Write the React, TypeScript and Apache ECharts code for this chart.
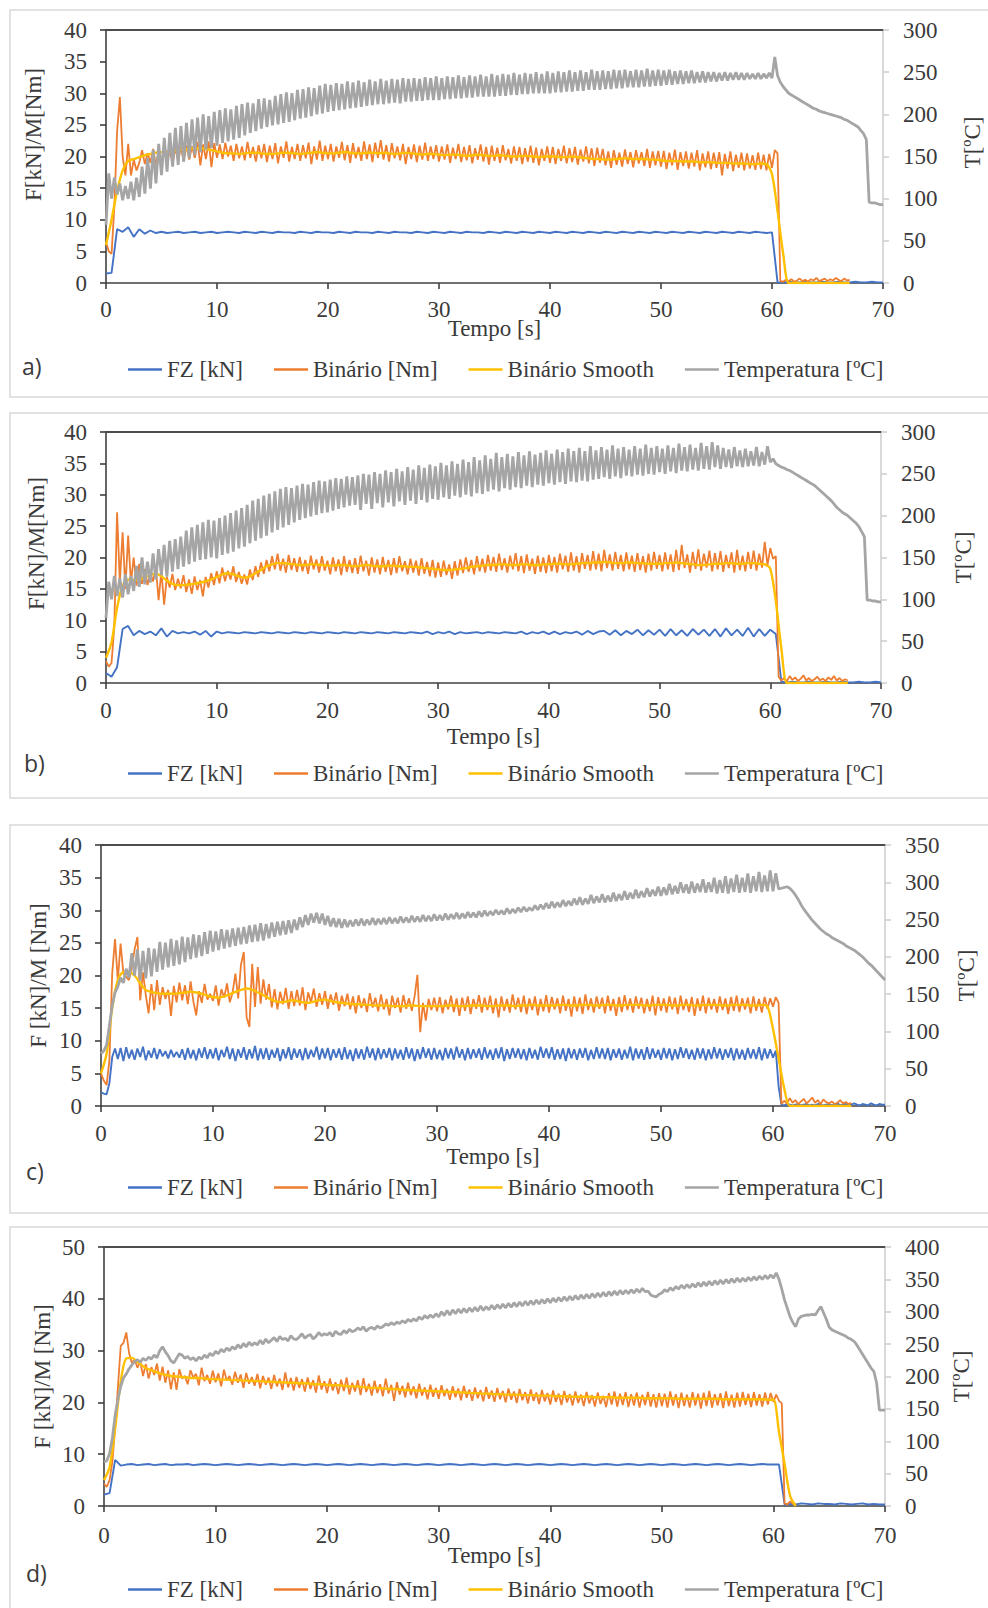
import React, { useEffect, useRef } from "react";
import * as echarts from "echarts";

const FONT = "Liberation Serif";
const C_FZ = "#4472C4";
const C_BIN = "#ED7D31";
const C_SM = "#FFC000";
const C_T = "#A5A5A5";
const TXT = "#3a3a3a";

// sample steps (s)
const STEP_BIN = 0.25;
const STEP_SM = 0.5;
const STEP_T = 0.25;

const legendNames = ["FZ [kN]", "Binário [Nm]", "Binário Smooth", "Temperatura [ºC]"];

// ---------------- Panel a ----------------
const fzA = [
  1.5,1.6,8.5,8.1,8.8,7.3,8.5,7.8,8.3,7.9,
  8.1,7.9,8,8.1,7.9,8,8.1,7.9,8,8.1,
  7.9,8,8.1,8,7.9,8.1,8,7.9,8.1,8,
  7.9,8.1,8,8,7.9,8.1,8,7.9,8.1,8,
  8,7.9,8.1,8,7.9,8.1,8,8,7.9,8.1,
  8,7.9,8.1,8,8,7.9,8.1,8,7.9,8.1,
  8,7.9,8.1,8,7.9,8.1,8,8,7.9,8.1,
  8,7.9,8.1,8,7.9,8.1,8,7.9,8.1,8,
  7.9,8.1,8,7.9,8.1,8,7.9,8.1,8,7.9,
  8.1,8,7.9,8.1,8,7.9,8.1,8,7.9,8.1,
  8,7.9,8.1,8,7.9,8.1,8,7.9,8.1,8,
  7.9,8.1,8,7.9,8.1,8,7.9,8.1,8,7.9,
  8,0.1,0.1,0.2,0.1,0.1,0.2,0.1,0.1,0.2,
  0.1,0.1,0.2,0.1,0.1,0.2,0.1,0.1,0.2,0.1,
  0.1,
];
const binA = [
  6.5,5.0,4.6,12,24,29.4,20,17,22,17,
  19.5,17.8,19,21,18.8,20.5,19,21.2,18.6,20.8,
  19.2,21.4,19,21,18.9,21.3,19.4,21.5,19.2,21.8,
  19.5,21.6,19.8,22.3,18.6,21.9,19.6,22.4,18.3,22.1,
  19.8,21.9,19.6,22.2,20,21.7,19.3,22,19.7,21.6,
  19.4,22.3,19.8,21.5,19.2,21.8,19.7,22,19.1,21.7,
  19.6,22.1,18.9,21.6,19.8,22.4,19.2,21.5,19.6,22,
  19.3,21.8,19.7,22.2,18.8,21.6,19.5,22.5,19.3,21.7,
  19.6,22,19.2,21.6,19.8,22.3,19.4,21.8,19,22.1,
  19.7,21.5,19.3,22.4,19.6,21.9,19.1,22.2,19.8,22.6,
  19.5,21.8,19.2,22.1,19.7,21.6,19.4,22,18.8,21.5,
  19.6,21.9,19.1,21.7,19.5,22.2,19.3,21.6,19.6,21.8,
  19.2,21.6,19.5,21.9,19,21.4,19.6,22,19.1,21.5,
  19.4,21.8,18.9,21.3,19.5,21.9,19.2,21.5,18.7,21.7,
  19.3,21.4,19,21.8,19.4,21.2,18.9,21.6,19.3,21.5,
  18.8,21.3,19.2,21.7,19,21.4,18.6,21.2,19.3,21.6,
  19,21.5,18.8,21.2,19.3,21.7,18.9,21.3,19.1,21.5,
  18.7,21.1,19.2,21.6,18.9,21.3,18.5,21.4,19,21.2,
  18.6,20.8,18.2,21,18.7,20.6,18.4,21.1,18.8,20.7,
  18.3,21,18.9,20.7,18.5,21.2,18.2,20.8,18.6,20.9,
  18.4,20.9,18,20.6,18.6,21.1,17.9,20.7,18.5,20.8,
  18.1,20.6,18.4,21,17.8,20.5,18.3,20.8,18,20.6,
  18.2,20.7,17,20.4,18.1,20.8,17.7,20.3,18.2,20.6,
  17.8,20.5,18.1,20.2,17.9,20.6,18,20.3,17.8,20.4,
  18.2,21,20.5,0.3,0.2,0.5,0.3,0.6,0.2,0.4,
  0.7,0.3,0.5,0.2,0.6,0.4,0.8,0.3,0.5,0.7,
  0.3,0.6,0.4,0.8,0.5,0.3,0.7,0.4,0.5,
];
const smA = [
  6,10,14.5,17.8,19.3,19.6,19.9,20.2,20.4,20.6,
  20.7,20.8,20.9,21,21.1,21.2,21.3,21.3,21.2,21,
  20.8,20.6,20.5,20.5,20.4,20.5,20.6,20.6,20.5,20.4,
  20.4,20.5,20.6,20.6,20.5,20.4,20.5,20.6,20.7,20.6,
  20.5,20.5,20.6,20.7,20.6,20.5,20.5,20.6,20.6,20.5,
  20.6,20.5,20.4,20.5,20.6,20.5,20.4,20.3,20.4,20.4,
  20.3,20.2,20.3,20.3,20.2,20.1,20.2,20.3,20.2,20.1,
  20.1,20.2,20.1,20,20,20.1,20.1,20,19.9,20,
  20,20,19.9,19.9,20,19.9,19.8,19.7,19.6,19.6,
  19.5,19.5,19.6,19.7,19.7,19.6,19.6,19.6,19.5,19.5,
  19.4,19.3,19.3,19.3,19.2,19.2,19.2,19.1,19.1,19.1,
  19,19,19,18.9,18.9,18.9,18.8,18.8,18.9,18.8,
  17.2,11.4,4.7,0,0,0,0,0,0,0,
  0,0,0,0,0,
];
const tempA = [
  69,130,100,125,105,118,98,115,100,120,
  98,125,102,138,106,148,112,158,118,165,
  128,172,132,178,138,184,140,186,144,190,
  148,194,152,196,155,200,158,198,160,203,
  163,205,166,207,168,206,170,210,172,212,
  175,214,178,213,180,218,183,219,185,217,
  187,222,188,224,190,226,191,225,193,229,
  195,230,196,232,198,231,200,234,201,236,
  203,235,204,237,205,236,206,239,207,238,
  208,240,209,238,210,241,211,239,212,242,
  212,240,213,242,214,241,213,243,215,242,
  215,243,216,242,216,244,217,243,217,245,
  217,243,218,245,218,244,219,246,219,244,
  220,246,220,245,221,247,221,245,221,248,
  221,246,222,248,222,247,223,249,223,247,
  224,249,224,248,225,250,225,248,225,251,
  225,249,226,251,226,250,227,252,227,250,
  228,252,228,250,229,253,229,251,229,252,
  230,251,230,253,231,252,231,253,232,251,
  232,253,232,252,233,254,233,252,234,253,
  234,252,235,253,235,251,236,252,236,251,
  237,252,237,250,238,251,238,250,239,250,
  239,249,240,250,240,249,241,250,241,249,
  241,249,242,248,242,249,242,248,243,249,
  243,268,246,238,233,229,225,223,221,219,
  217,215,213,211,209,207,206,204,203,202,
  201,200,199,198,197,196,194,193,191,189,
  187,185,181,177,170,96,95,95,94,93,
  93,
];

// ---------------- Panel b ----------------
const fzB = [
  1.6,1.0,2.5,8.6,9.1,7.6,8.3,7.8,8.2,7.6,
  8.7,7.4,8.3,7.9,8.1,7.9,8.2,7.7,8.3,7.4,
  8.2,7.9,8.1,8,7.9,8.1,8,7.9,8.1,8,
  7.9,8.1,8,7.9,8.1,8,7.9,8.1,8,7.9,
  8.1,8,7.9,8.1,8,7.9,8.1,8,7.9,8.1,
  8,7.9,8.1,8,7.9,8.1,8,7.9,8.2,7.8,
  8.1,7.9,8.2,7.8,8.1,7.9,8,8.1,7.9,8.1,
  8,7.9,8.1,8,7.9,8.2,7.8,8.1,7.9,8.2,
  7.8,8.2,7.8,8.1,7.9,8.2,7.7,8.3,7.8,8.2,
  8.3,7.7,8.4,7.6,8.3,7.8,8.5,7.6,8.4,7.7,
  8.5,7.5,8.6,7.6,8.4,7.5,8.6,7.7,8.5,7.5,
  8.6,7.4,8.7,7.6,8.5,7.5,8.8,7.4,8.6,7.5,
  8.5,7.8,0.2,0.1,0.2,0.1,0.1,0.2,0.1,0.1,
  0.2,0.1,0.1,0.2,0.1,0.1,0.2,0.1,0.1,0.2,
  0.1,
];
const binB = [
  3.5,2.6,3.2,9,27.2,16,24,15,23.5,16,
  20,15.5,19,15.8,18.2,15.6,17.5,16.2,18.4,13.2,
  17.8,12.5,16.9,15.2,17.4,14.8,16.6,15.1,17.2,14.5,
  16.5,14.2,17,14.8,16.4,13.8,16.9,15.2,17.5,15.6,
  17.8,15.9,18.4,16.2,17.9,16.5,18.6,16.1,17.7,15.8,
  17.3,15.7,18.1,16.4,18.6,16.9,19.2,17.4,19.6,17.8,
  20.2,18.1,20.6,17.9,19.8,17.6,20.4,18,19.9,17.7,
  20.1,17.8,19.6,17.4,20.3,18.1,19.7,17.6,20.2,17.9,
  19.5,17.3,20,17.8,19.7,17.2,20.2,17.7,19.6,17.5,
  19.9,17.4,20.3,17.8,19.5,17.1,20,17.6,19.7,17.3,
  20.1,17.7,19.6,17.2,19.9,17.5,20.2,17.8,19.4,17.3,
  19.8,17.6,19.5,17.1,19.9,17.4,19.3,17,19.6,16.8,
  19.2,16.9,19.5,17.2,18.9,16.6,19.4,17.1,19.7,17.5,
  20,17.7,19.6,17.3,20.2,17.8,19.8,17.6,20.4,17.9,
  20.1,17.7,20.6,18,19.9,17.6,20.3,18.1,20.7,17.8,
  20.2,17.5,20.5,17.9,19.8,17.4,20.3,17.7,20,17.5,
  20.4,17.8,20.1,17.6,20.6,18.1,20.3,17.7,20.8,17.9,
  20.2,17.6,20.7,18.2,20.4,17.9,21,18.1,20.6,17.8,
  21.2,18.3,20.5,17.9,20.9,18.2,20.4,17.8,20.8,18.1,
  20.3,17.7,20.7,18,20.2,17.6,20.6,17.9,20.9,18.2,
  20.4,17.8,20.8,18.1,20.5,17.7,21.2,18,22,18.3,
  20.5,17.6,20.9,18.2,21.3,17.9,20.6,18.4,21.1,17.8,
  20.7,18.1,21,17.7,20.4,18.3,20.8,17.6,21.2,18,
  20.3,17.8,20.9,18.2,21.1,17.9,20.6,18.4,22.5,18.8,
  21.5,19.8,20.2,1,0.4,0.8,0.3,1.1,0.5,0.9,
  0.3,0.7,1.2,0.4,0.8,0.3,0.6,1,0.4,0.7,
  0.3,0.9,0.5,1.1,0.4,0.8,0.3,0.6,0.4,
];
const smB = [
  4,6.5,12,15.5,16.5,16.4,16.5,16.8,17.2,17.4,
  17,16.3,15.8,15.6,15.6,15.7,15.8,16,16.2,16.5,
  16.9,17.3,17.5,17.3,17,16.8,17,17.5,18,18.6,
  18.9,19.1,19.1,19,18.9,18.8,18.8,18.9,18.9,18.8,
  18.7,18.7,18.8,18.8,18.7,18.6,18.7,18.8,18.7,18.6,
  18.6,18.7,18.7,18.6,18.6,18.5,18.5,18.4,18.3,18.2,
  18.1,18,18,18.1,18.2,18.3,18.5,18.6,18.7,18.8,
  18.8,18.9,18.9,18.8,18.8,18.9,18.9,18.8,18.8,18.9,
  18.9,19,19,18.9,18.9,19,19.1,19.1,19.2,19.2,
  19.3,19.2,19.1,19.1,19.2,19.2,19.1,19.1,19,19,
  19,19.1,19.1,19.2,19.1,19,18.9,18.8,18.8,18.9,
  19,19,19.1,19.1,19,19,19.1,19.1,19,18.9,
  18.2,13,5.5,0,0,0,0,0,0,0,
  0,0,0,0,0,
];
const tempB = [
  78,121,100,128,104,125,102,130,106,128,
  110,140,115,150,118,145,120,155,124,160,
  129,165,127,170,133,172,136,175,139,182,
  142,186,145,189,147,192,148,195,150,194,
  149,197,153,200,155,203,157,206,161,209,
  163,213,167,218,170,220,173,224,176,226,
  180,229,183,232,186,234,189,233,192,236,
  195,238,197,237,199,240,201,242,203,241,
  204,243,206,245,208,244,210,247,212,246,
  213,248,207,250,214,249,208,252,215,250,
  210,254,216,252,211,256,217,253,213,258,
  218,255,214,260,219,257,216,261,220,259,
  219,263,222,260,220,265,224,262,222,267,
  225,264,223,270,227,266,226,272,229,268,
  231,275,229,270,233,274,231,271,234,276,
  233,272,236,277,234,273,237,275,236,278,
  239,274,237,279,240,276,238,280,241,277,
  240,281,242,277,241,283,243,278,244,282,
  246,279,244,284,247,280,245,282,248,279,
  247,283,249,280,248,285,250,281,249,283,
  252,280,250,284,253,281,251,286,254,282,
  253,285,255,281,254,287,256,283,255,288,
  258,284,256,281,258,279,257,282,259,278,
  258,280,259,277,260,282,259,276,261,283,
  264,268,262,260,258,257,255,254,252,250,
  248,246,244,242,240,238,236,233,230,227,
  224,221,218,214,210,207,204,202,200,197,
  194,191,187,181,175,99,99,98,98,97,
  97,
];

// ---------------- Panel c ----------------
const fzC = [
  2.1,1.9,1.8,3.5,7.5,8.8,7.2,8.9,6.9,9,
  7.3,8.6,7.1,8.8,7.5,9.1,7,8.5,7.4,8.9,
  7.2,8.7,7.6,8.4,7.3,8.6,7.5,8.3,7.4,8.7,
  7.1,8.9,7.3,8.6,7,8.8,7.4,9,7.2,8.7,
  7.3,8.9,7,8.6,7.5,9.1,7.2,8.8,6.9,8.7,
  7.4,9,7.1,8.7,7.3,9.2,7,8.8,7.2,8.9,
  7.1,8.6,7.4,8.9,6.9,8.7,7.3,9,7.1,8.8,
  7.4,8.7,7,8.9,7.2,8.6,7.5,9.1,7.1,8.8,
  7.3,8.9,7,8.7,7.4,8.8,7.1,9,7.2,8.6,
  6.9,8.8,7.3,8.7,7.1,9.1,7.4,8.8,7,8.9,
  7.2,8.7,7.4,8.9,7,8.8,7.3,8.6,7.1,9,
  7.3,8.8,6.9,8.7,7.2,9,7.4,8.8,7.1,8.9,
  7.2,8.6,7,8.9,7.3,8.8,7.1,9.1,7.4,8.7,
  7,8.9,7.2,8.7,7.4,8.8,7.1,9,7.3,8.6,
  7.1,8.8,7.3,9,6.9,8.7,7.2,8.9,7.4,8.8,
  7.2,8.7,7,8.9,7.3,8.6,7.1,9.1,7.4,8.8,
  7.3,9,7.1,8.7,7.2,8.8,6.9,8.9,7.3,8.7,
  7.1,8.8,7.4,8.9,7,8.6,7.2,9,7.3,8.8,
  7.2,8.9,7,8.7,7.4,8.8,7.1,8.6,7.3,9.1,
  7,8.8,7.3,8.7,7.1,9,7.2,8.8,7.4,8.6,
  7.1,8.9,7.3,8.8,7,8.7,7.2,9,7.4,8.8,
  7.2,8.6,7.1,8.9,7.3,8.8,7,8.7,7.2,9,
  7.3,8.8,7.1,8.7,7.4,8.9,7,8.8,7.2,8.6,
  7.1,8.9,7.3,8.7,7.2,9,7,8.8,7.3,8.7,
  7.4,8.5,3,0.2,0.1,0.3,0.2,0.1,0.2,0.3,
  0.1,0.2,0.3,0.1,0.2,0.1,0.3,0.2,0.1,0.2,
  0.3,0.1,0.2,0.4,0.1,0.2,0.3,0.1,0.2,0.4,
  0.2,0.1,0.3,0.2,0.1,0.4,0.2,0.1,0.3,0.2,
  0.2,
];
const binC = [
  5,3.9,3.2,7,20.3,25.6,19.3,24.9,20.3,19.8,
  19.3,21.3,24,25.9,16.2,20.5,17,14.2,18.7,14.7,
  19.3,15.5,18.2,16.4,17.8,13.8,18.4,15.9,18.9,16.2,
  18.5,15.6,19.1,16,13.9,17.6,15.8,18.7,16.3,17.2,
  16.1,18.5,15.4,17.9,16.6,18.8,15.9,17.4,20.3,16.5,
  21.7,23.6,13.6,12.1,21.8,15.2,21.3,15.7,19.4,16.3,
  18.7,15.1,17.9,14.8,17.5,15.6,18.1,14.9,17.6,15.3,
  17.8,15.4,18.2,14.7,17.4,15.9,18,15.2,17.3,15.5,
  17.6,14.9,17.1,15.5,17.4,14.6,16.9,15.3,17.2,14.8,
  16.8,14.2,17,15,16.5,14.4,17.3,15.1,16.6,14.5,
  17.1,14.8,16.4,13.9,16.9,15,16.6,14.3,17,14.9,
  16.5,14.6,16.8,20.1,11.3,15.8,13.1,16.4,14.7,16.6,
  14.5,16.7,14.2,16.3,14.8,16.9,14.4,16.5,13.8,16.6,
  14.6,16.8,14.1,16.4,14.9,17,14.3,16.6,14.7,16.9,
  14.2,16.5,13.6,16.8,14.6,16.4,14.3,17.1,14.8,16.6,
  14.4,16.9,14.1,16.5,14.7,16.8,13.9,16.4,14.5,17,
  14.3,16.7,14.8,16.5,14.2,16.9,14.6,16.4,13.7,16.8,
  14.5,16.6,14.1,17.1,14.7,16.5,14.3,16.8,14.9,16.6,
  14.2,16.9,14.6,16.4,13.8,16.7,14.4,17,14.7,16.5,
  14.3,16.8,14.9,16.6,14.2,16.4,14.5,16.9,13.9,16.7,
  14.6,16.5,14.3,16.8,14.8,16.6,14.1,16.9,14.7,16.4,
  14.4,16.7,13.8,16.5,14.6,16.9,14.2,16.6,14.8,16.4,
  14.3,16.8,14.7,16.5,14.1,16.7,14.6,16.9,14.4,16.5,
  14.8,16.6,14.2,16.8,14.6,16.4,14.3,16.7,14.9,16.5,
  15.2,16.7,15.8,0.3,0.8,0.4,1.2,0.5,0.9,0.3,
  0.7,1.1,0.4,0.8,1.3,0.5,0.9,0.3,1,0.6,
  0.4,0.7,0.3,0.5,0.9,0.4,0.6,0.3,0.5,
];
const smC = [
  5,8,15,19.3,20.5,20.5,20,18.8,17.8,17.5,
  17.3,17.2,17.2,17.2,17.3,17.4,17.5,17.4,17.2,16.9,
  16.7,16.6,16.8,17.1,17.5,17.8,18,17.8,17.4,17,
  16.5,16.1,15.9,16,16.2,16.1,15.9,15.8,16,16.2,
  16.3,16.1,15.9,15.8,15.7,15.6,15.6,15.5,15.5,15.4,
  15.4,15.4,15.3,15.3,15.3,15.4,15.4,15.3,15.3,15.3,
  15.3,15.3,15.4,15.4,15.3,15.3,15.4,15.4,15.4,15.3,
  15.3,15.4,15.4,15.4,15.3,15.4,15.4,15.5,15.4,15.4,
  15.4,15.4,15.5,15.5,15.4,15.4,15.5,15.5,15.4,15.4,
  15.5,15.5,15.4,15.4,15.5,15.5,15.5,15.4,15.4,15.5,
  15.5,15.5,15.4,15.4,15.5,15.5,15.4,15.4,15.5,15.5,
  15.5,15.4,15.4,15.5,15.5,15.5,15.4,15.4,15.5,15.3,
  11.8,7.3,2.7,0,0,0,0,0,0,0,
  0,0,0,0,0,
];
const tempC = [
  70,74,82,108,135,152,160,172,165,184,
  172,205,175,210,168,208,171,212,174,211,
  180,220,183,219,186,224,188,222,190,227,
  193,226,197,230,199,229,201,233,204,235,
  207,234,209,237,211,236,213,238,215,239,
  217,240,218,242,220,243,221,245,222,244,
  225,246,227,247,229,248,230,249,232,250,
  236,253,240,256,243,258,246,259,245,258,
  243,255,241,252,240,251,239,250,240,249,
  241,250,242,251,242,250,243,252,243,251,
  244,252,244,253,245,252,245,254,246,253,
  246,255,247,254,247,256,248,255,248,257,
  249,256,249,258,250,257,251,259,251,258,
  252,260,253,259,253,261,254,262,255,261,
  256,263,257,262,257,265,258,264,259,266,
  260,267,261,266,262,269,263,270,264,272,
  265,274,266,273,267,276,268,275,269,278,
  270,280,270,278,271,283,272,281,273,284,
  273,282,274,286,275,284,276,288,277,286,
  278,290,279,288,280,292,281,290,282,294,
  282,293,283,298,284,295,285,300,286,297,
  285,301,286,298,287,304,286,300,287,306,
  285,303,286,308,285,305,287,310,286,306,
  287,312,286,308,288,314,287,309,288,316,
  288,312,291,292,293,294,292,288,283,277,
  270,264,259,254,249,245,241,237,234,231,
  229,226,224,222,220,218,215,213,211,209,
  206,203,200,196,192,189,185,181,177,173,
  169,
];

// ---------------- Panel d ----------------
const fzD = [
  2.2,2.5,8.9,7.8,8,8.1,7.9,8,8.1,7.9,
  8,8.1,7.9,8,8,8.1,7.9,8,8.1,8,
  7.9,8,8.1,8,7.9,8,8.1,8,7.9,8,
  8.1,8,7.9,8,8.1,8,7.9,8,8.1,8,
  7.9,8,8.1,8,7.9,8,8.1,8,7.9,8,
  8.1,8,7.9,8,8.1,8,7.9,8,8.1,8,
  7.9,8,8.1,8,7.9,8,8.1,8,7.9,8,
  8.1,8,7.9,8,8.1,8,7.9,8,8.1,8,
  7.9,8,8.1,8,7.9,8,8.1,8,7.9,8,
  8.1,8,7.9,8,8.1,8,7.9,8,8.1,8,
  7.9,8,8.1,8,7.9,8,8.1,8,7.9,8,
  8.1,8,7.9,8,8.1,8,7.9,8,8.1,8,
  8,8,0.3,0.4,0.3,0.5,0.4,0.3,0.5,0.4,
  0.4,0.3,0.5,0.4,0.3,0.4,0.5,0.3,0.4,0.3,
  0.3,
];
const binD = [
  4.3,3.7,5,8.5,15.3,23,30.9,31.5,33.5,29.5,
  27.6,28.3,26.7,27.9,25.1,27.4,24.6,26.8,25.3,27.5,
  24.2,26.9,23.8,26.2,22.5,25.8,22.4,26.4,24.6,25.1,
  23.5,26.2,24.8,25.5,23.3,26.7,24.1,25.3,23.6,26.1,
  23.9,25.6,23.1,26.3,24.2,25.1,23.4,25.9,23.8,25.4,
  22.8,25.7,23.6,24.9,23.2,25.5,22.7,25.1,23.4,24.8,
  22.6,25.3,23.1,24.6,22.4,25.8,22.9,24.7,22.3,24.9,
  22.8,24.5,22.1,24.8,22.6,24.3,21.9,25.2,22.5,24.1,
  21.8,24.6,22.3,23.9,21.6,24.4,22.2,24.8,21.5,23.8,
  22.1,24.3,21.4,24.7,22,23.6,21.3,24.2,21.8,23.5,
  21.2,24.6,21.7,23.4,20.3,23.9,21.5,23.2,21,23.8,
  21.4,23.1,20.8,23.6,21.3,22.9,20.6,23.4,21.1,22.8,
  20.7,23.3,21.2,22.6,20.5,23.1,21,22.7,20.4,23.2,
  20.9,22.5,20.3,22.9,20.8,22.4,20.2,23,20.7,22.3,
  20.1,22.8,20.6,22.2,20,22.7,20.5,22.1,19.9,22.6,
  20.4,22,19.8,22.5,20.3,21.9,19.7,22.4,20.2,21.8,
  19.6,22.3,20.1,21.7,19.5,22.2,20,21.6,19.4,22.1,
  19.9,21.5,19.3,22,19.8,21.4,19.2,21.9,19.7,21.3,
  19.1,21.8,19.6,22.1,19.2,21.7,19.5,22,19.1,21.6,
  19.4,21.9,19,21.5,19.5,22,19.2,21.6,19,21.8,
  19.3,21.7,19,22.1,19.4,21.6,18.9,21.9,19.3,21.5,
  19,22,19.4,21.7,18.8,21.9,19.3,22.2,19,21.6,
  19.4,21.8,18.9,22.1,19.3,21.5,19,21.9,19.2,22,
  19.5,21.7,19.1,22,19.4,21.6,19.2,21.9,19.6,21.8,
  20.1,21.5,20.3,19.8,0.5,0.3,0.9,0.4,0.2,
];
const smD = [
  5,7.5,15,24,28.5,28.6,27.8,27,26.4,26,
  25.6,25.3,25.1,25,24.9,24.8,24.7,24.7,24.6,24.5,
  24.5,24.4,24.4,24.3,24.3,24.2,24.2,24.1,24.1,24,
  24,23.9,23.9,23.8,23.8,23.7,23.7,23.6,23.5,23.5,
  23.4,23.3,23.3,23.2,23.1,23.1,23,22.9,22.8,22.8,
  22.7,22.6,22.6,22.5,22.4,22.4,22.3,22.3,22.2,22.2,
  22.1,22.1,22,22,21.9,21.9,21.8,21.8,21.7,21.7,
  21.6,21.6,21.5,21.5,21.5,21.4,21.4,21.4,21.3,21.3,
  21.3,21.2,21.2,21.2,21.1,21.1,21.1,21.1,21,21,
  21,21,20.9,20.9,20.9,20.9,20.9,20.8,20.8,20.8,
  20.8,20.8,20.8,20.7,20.7,20.7,20.7,20.7,20.7,20.7,
  20.7,20.6,20.6,20.6,20.6,20.6,20.6,20.6,20.6,20.5,
  20.5,14.3,8.1,1.9,0,
];
const tempD = [
  68,70,81,105,140,165,185,198,204,212,
  218,223,226,222,228,225,230,227,233,229,
  240,246,238,232,224,221,228,235,233,228,
  231,226,229,224,230,227,233,229,236,232,
  239,235,242,238,244,240,246,242,249,244,
  251,246,253,248,252,249,256,250,258,252,
  256,260,254,262,257,259,255,263,258,257,
  261,266,259,263,265,258,262,268,263,266,
  264,268,262,270,266,265,271,267,273,269,
  271,275,272,277,270,274,276,273,278,275,
  277,281,279,283,280,284,282,286,283,288,
  285,289,286,292,288,294,290,295,291,297,
  292,300,294,302,295,303,297,304,298,305,
  299,306,300,307,301,309,302,308,303,310,
  304,311,305,312,306,313,307,314,308,315,
  309,316,310,317,311,318,312,319,313,320,
  314,321,315,322,316,323,317,324,318,325,
  319,326,320,327,321,328,322,329,323,330,
  324,331,325,332,326,333,327,333,328,334,
  329,335,330,336,331,332,326,324,323,327,
  329,334,331,337,333,339,335,341,336,342,
  337,343,338,345,339,346,340,347,341,348,
  342,349,343,350,344,351,345,352,346,352,
  347,353,348,354,349,355,350,356,351,357,
  352,360,350,335,318,305,292,283,277,289,
  293,294,295,295,296,295,302,308,298,288,
  276,272,270,268,266,264,262,259,257,254,
  248,241,234,227,220,213,208,190,148,148,
  148,
];

type PanelCfg = {
  tag: string;
  top: number;
  height: number;
  boxY: number;
  boxH: number;
  gridLeft: number;
  gridRight: number;
  gridTop: number;
  gridHeight: number;
  tagY: number;
  tagX: number;
  legendTop: number;
  yMax: number;
  yInt: number;
  tMax: number;
  yName: string;
  yNameGap: number;
  yNamePad: number;
  tNameGap: number;
  tNamePad: number;
  xLabelMargin: number;
  xNameGap: number;
  fzStep: number;
  fz: number[];
  bin: number[];
  sm: number[];
  temp: number[];
};

const panels: PanelCfg[] = [
  {
    tag: "a)", top: 0, height: 405, boxY: 10, boxH: 387,
    gridLeft: 106, gridRight: 105, gridTop: 30, gridHeight: 253,
    tagX: 22, tagY: 366, legendTop: 358,
    yMax: 40, yInt: 5, tMax: 300,
    yName: "F[kN]/M[Nm]", yNameGap: 61, yNamePad: 44, tNameGap: 78, tNamePad: 28,
    xLabelMargin: 15, xNameGap: 34,
    fzStep: 0.5, fz: fzA, bin: binA, sm: smA, temp: tempA,
  },
  {
    tag: "b)", top: 405, height: 410, boxY: 8, boxH: 385,
    gridLeft: 106, gridRight: 107, gridTop: 27, gridHeight: 251,
    tagX: 24, tagY: 358, legendTop: 357,
    yMax: 40, yInt: 5, tMax: 300,
    yName: "F[kN]/M[Nm]", yNameGap: 58, yNamePad: 28, tNameGap: 71, tNamePad: 0,
    xLabelMargin: 16, xNameGap: 42,
    fzStep: 0.5, fz: fzB, bin: binB, sm: smB, temp: tempB,
  },
  {
    tag: "c)", top: 815, height: 405, boxY: 10, boxH: 388,
    gridLeft: 101, gridRight: 103, gridTop: 30, gridHeight: 261,
    tagX: 26, tagY: 356, legendTop: 361,
    yMax: 40, yInt: 5, tMax: 350,
    yName: "F [kN]/M [Nm]", yNameGap: 51, yNamePad: 0, tNameGap: 70, tNamePad: 0,
    xLabelMargin: 16, xNameGap: 39,
    fzStep: 0.25, fz: fzC, bin: binC, sm: smC, temp: tempC,
  },
  {
    tag: "d)", top: 1220, height: 388, boxY: 7, boxH: 400,
    gridLeft: 104, gridRight: 103, gridTop: 27, gridHeight: 259,
    tagX: 26, tagY: 353, legendTop: 358,
    yMax: 50, yInt: 10, tMax: 400,
    yName: "F [kN]/M [Nm]", yNameGap: 50, yNamePad: 0, tNameGap: 65, tNamePad: 0,
    xLabelMargin: 18, xNameGap: 38,
    fzStep: 0.5, fz: fzD, bin: binD, sm: smD, temp: tempD,
  },
];

const toPairs = (vals: number[], step: number) => vals.map((v, i) => [i * step, v]);

function buildOption(p: PanelCfg) {
  const txt = { fontFamily: FONT, fontSize: 23, color: TXT };
  return {
    animation: false,
    textStyle: { fontFamily: FONT, fontSize: 23, color: TXT },
    grid: {
      left: p.gridLeft, right: p.gridRight, top: p.gridTop, height: p.gridHeight,
      containLabel: false, outerBoundsMode: "none",
    },
    legend: {
      data: legendNames.map((n) => ({ name: n, icon: "rect" })),
      left: 128,
      top: p.legendTop,
      padding: 0,
      itemWidth: 34,
      itemHeight: 2.5,
      itemGap: 31,
      textStyle: { fontFamily: FONT, fontSize: 23, color: TXT },
    },
    xAxis: [
      {
        type: "value", min: 0, max: 70, interval: 10, position: "bottom",
        name: "Tempo [s]", nameLocation: "middle", nameGap: p.xNameGap, nameMoveOverlap: false,
        nameTextStyle: { ...txt },
        axisLine: { show: true, onZero: false, lineStyle: { color: "#404040", width: 1.6 } },
        axisTick: { show: true, length: 6, lineStyle: { color: "#404040", width: 1.6 } },
        axisLabel: { fontFamily: FONT, fontSize: 23, color: TXT, margin: p.xLabelMargin },
        splitLine: { show: false },
      },
      {
        type: "value", min: 0, max: 70, position: "top",
        axisLine: { show: true, onZero: false, lineStyle: { color: "#4d4d4d", width: 2 } },
        axisTick: { show: false }, axisLabel: { show: false }, splitLine: { show: false },
      },
    ],
    yAxis: [
      {
        type: "value", min: 0, max: p.yMax, interval: p.yInt, position: "left",
        name: p.yName, nameLocation: "middle", nameRotate: 90, nameGap: p.yNameGap, nameMoveOverlap: false,
        nameTextStyle: { ...txt, padding: [0, 0, 0, p.yNamePad] },
        axisLine: { show: true, onZero: false, lineStyle: { color: "#404040", width: 1.6 } },
        axisTick: { show: true, length: 6, lineStyle: { color: "#404040", width: 1.6 } },
        axisLabel: { fontFamily: FONT, fontSize: 23, color: TXT, margin: 19 },
        splitLine: { show: false },
      },
      {
        type: "value", min: 0, max: p.tMax, interval: 50, position: "right",
        name: "T[ºC]", nameLocation: "middle", nameRotate: 90, nameGap: p.tNameGap, nameMoveOverlap: false,
        nameTextStyle: { ...txt, padding: [0, 0, 0, p.tNamePad] },
        axisLine: { show: true, onZero: false, lineStyle: { color: "#D0D0D0", width: 1.6 } },
        axisTick: { show: true, length: 6, lineStyle: { color: "#D0D0D0", width: 1.6 } },
        axisLabel: { fontFamily: FONT, fontSize: 23, color: TXT, margin: 20 },
        splitLine: { show: false },
      },
    ],
    series: [
      {
        name: legendNames[0], type: "line", xAxisIndex: 0, yAxisIndex: 0,
        data: toPairs(p.fz, p.fzStep), symbol: "none",
        lineStyle: { color: C_FZ, width: 1.9 }, itemStyle: { color: C_FZ },
      },
      {
        name: legendNames[1], type: "line", xAxisIndex: 0, yAxisIndex: 0,
        data: toPairs(p.bin, STEP_BIN), symbol: "none",
        lineStyle: { color: C_BIN, width: 1.8 }, itemStyle: { color: C_BIN },
      },
      {
        name: legendNames[2], type: "line", xAxisIndex: 0, yAxisIndex: 0,
        data: toPairs(p.sm, STEP_SM), symbol: "none", smooth: 0.3,
        lineStyle: { color: C_SM, width: 2.4 }, itemStyle: { color: C_SM },
      },
      {
        name: legendNames[3], type: "line", xAxisIndex: 0, yAxisIndex: 1,
        data: toPairs(p.temp, STEP_T), symbol: "none",
        lineStyle: { color: C_T, width: 2.8 }, itemStyle: { color: C_T },
      },
    ],
    graphic: [
      {
        type: "rect", silent: true, z: -10,
        shape: { x: 10, y: p.boxY, width: 990, height: p.boxH },
        style: { fill: "none", stroke: "#D9D9D9", lineWidth: 1.5 },
      },
      {
        type: "text", x: p.tagX, y: p.tagY,
        style: { text: p.tag, fontFamily: "Open Sans", fontSize: 23, fill: TXT, verticalAlign: "middle" },
      },
    ],
  };
}

function Panel({ cfg }: { cfg: PanelCfg }) {
  const ref = useRef<HTMLDivElement>(null);
  useEffect(() => {
    if (!ref.current) return;
    const chart = echarts.init(ref.current, undefined, { renderer: "svg" });
    chart.setOption(buildOption(cfg) as any);
    return () => chart.dispose();
  }, [cfg]);
  return (
    <div
      ref={ref}
      style={{ position: "absolute", left: 0, top: cfg.top, width: 988, height: cfg.height }}
    />
  );
}

export default function App() {
  return (
    <div style={{ position: "absolute", left: 0, top: 0, width: 988, height: 1608, background: "#fff", overflow: "hidden" }}>
      {panels.map((p) => (
        <Panel key={p.tag} cfg={p} />
      ))}
    </div>
  );
}
